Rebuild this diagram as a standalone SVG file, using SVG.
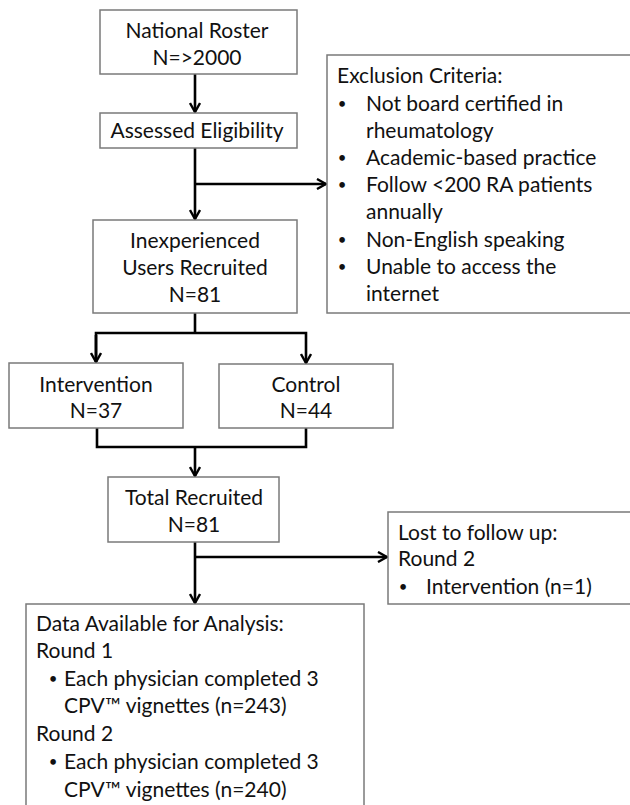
<svg xmlns="http://www.w3.org/2000/svg" width="630" height="805" viewBox="0 0 630 805">
<style>
.box{fill:#fff;stroke:#7a7a7a;stroke-width:1.5}
.t{font-family:"Lato","Liberation Sans",sans-serif;font-size:21px;fill:#111}
.c{text-anchor:middle}
.b{font-family:"Lato","Liberation Sans",sans-serif;font-size:15px;fill:#111;text-anchor:middle}
.ln{fill:none;stroke:#000;stroke-width:2.6}
</style>
<defs>
<marker id="ar" viewBox="0 0 12 12" refX="11" refY="6" markerWidth="12" markerHeight="12" markerUnits="userSpaceOnUse" orient="auto">
<path d="M2,1 L11,6 L2,11" fill="none" stroke="#000" stroke-width="2.4"/>
</marker>
</defs>
<rect width="630" height="805" fill="#fff"/>
<g id="connectors">
<line class="ln" x1="195" y1="74" x2="195" y2="112" marker-end="url(#ar)"/>
<line class="ln" x1="195" y1="148" x2="195" y2="219" marker-end="url(#ar)"/>
<line class="ln" x1="195" y1="184" x2="326" y2="184" marker-end="url(#ar)"/>
<polyline class="ln" points="195,313 195,333"/>
<polyline class="ln" points="96,362 96,333 306,333 306,363" marker-end="url(#ar)"/>
<line class="ln" x1="96" y1="335" x2="96" y2="362" marker-end="url(#ar)"/>
<polyline class="ln" points="97,428 97,447 306,447 306,428"/>
<line class="ln" x1="195" y1="447" x2="195" y2="476" marker-end="url(#ar)"/>
<line class="ln" x1="195" y1="542" x2="195" y2="603" marker-end="url(#ar)"/>
<line class="ln" x1="195" y1="557" x2="387" y2="557" marker-end="url(#ar)"/>
</g>
<g id="national-roster">
<rect class="box" x="100" y="10" width="197" height="64"/>
<text class="t c" x="197" y="38">National Roster</text>
<text class="t c" x="197" y="65">N=&gt;2000</text>
</g>
<g id="assessed-eligibility">
<rect class="box" x="100" y="113" width="197" height="35"/>
<text class="t c" x="197" y="138">Assessed Eligibility</text>
</g>
<g id="exclusion-criteria">
<rect class="box" x="327" y="55" width="310" height="258"/>
<text class="t" x="337" y="83">Exclusion Criteria:</text>
<text class="b" x="342" y="109">•</text><text class="t" x="366" y="111">Not board certified in</text>
<text class="t" x="366" y="138">rheumatology</text>
<text class="b" x="342" y="163">•</text><text class="t" x="366" y="165">Academic-based practice</text>
<text class="b" x="342" y="190">•</text><text class="t" x="366" y="192">Follow &lt;200 RA patients</text>
<text class="t" x="366" y="219">annually</text>
<text class="b" x="342" y="245">•</text><text class="t" x="366" y="247">Non-English speaking</text>
<text class="b" x="342" y="272">•</text><text class="t" x="366" y="274">Unable to access the</text>
<text class="t" x="366" y="301">internet</text>
</g>
<g id="inexperienced-users">
<rect class="box" x="93" y="220" width="204" height="93"/>
<text class="t c" x="195" y="248">Inexperienced</text>
<text class="t c" x="195" y="275">Users Recruited</text>
<text class="t c" x="195" y="302">N=81</text>
</g>
<g id="intervention">
<rect class="box" x="9" y="363" width="174" height="65"/>
<text class="t c" x="96" y="392">Intervention</text>
<text class="t c" x="96" y="418">N=37</text>
</g>
<g id="control">
<rect class="box" x="219" y="364" width="174" height="64"/>
<text class="t c" x="306" y="392">Control</text>
<text class="t c" x="306" y="418">N=44</text>
</g>
<g id="total-recruited">
<rect class="box" x="108" y="477" width="171" height="65"/>
<text class="t c" x="194" y="505">Total Recruited</text>
<text class="t c" x="194" y="532">N=81</text>
</g>
<g id="lost-to-follow-up">
<rect class="box" x="388" y="512" width="250" height="92"/>
<text class="t" x="398" y="540">Lost to follow up:</text>
<text class="t" x="398" y="566">Round 2</text>
<text class="b" x="403" y="592">•</text><text class="t" x="426" y="594">Intervention (n=1)</text>
</g>
<g id="data-available">
<rect class="box" x="26" y="604" width="338" height="210"/>
<text class="t" x="36" y="631">Data Available for Analysis:</text>
<text class="t" x="36" y="658">Round 1</text>
<text class="b" x="53" y="684">•</text><text class="t" x="64" y="686">Each physician completed 3</text>
<text class="t" x="64" y="713">CPV™ vignettes (n=243)</text>
<text class="t" x="36" y="741">Round 2</text>
<text class="b" x="53" y="767">•</text><text class="t" x="64" y="769">Each physician completed 3</text>
<text class="t" x="64" y="797">CPV™ vignettes (n=240)</text>
</g>
</svg>
